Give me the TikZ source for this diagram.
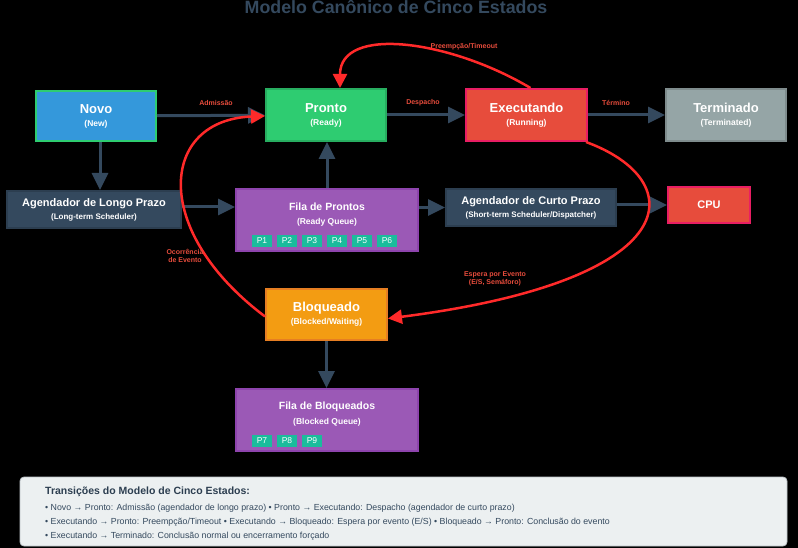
\documentclass[tikz,border=0pt]{standalone}
\usepackage{fontspec}
\setmainfont{Liberation Sans}
\usepackage{tikz}
\usetikzlibrary{positioning,arrows.meta}

\definecolor{cnovo}{HTML}{3498DB}
\definecolor{cpronto}{HTML}{2ECC71}
\definecolor{cprontob}{HTML}{27AE60}
\definecolor{cexec}{HTML}{E74C3C}
\definecolor{cpink}{HTML}{E91E63}
\definecolor{cterm}{HTML}{95A5A6}
\definecolor{ctermb}{HTML}{7F8C8D}
\definecolor{cdark}{HTML}{34495E}
\definecolor{cdarkb}{HTML}{2C3E50}
\definecolor{cfila}{HTML}{9B59B6}
\definecolor{cfilab}{HTML}{8E44AD}
\definecolor{cbloq}{HTML}{F39C12}
\definecolor{cbloqb}{HTML}{E67E22}
\definecolor{cchip}{HTML}{1ABC9C}
\definecolor{cred}{HTML}{FF2A2A}
\definecolor{clabel}{HTML}{E74C3C}
\definecolor{clegend}{HTML}{ECF0F1}
\definecolor{clegendb}{HTML}{BDC3C7}

\tikzset{
  statebox/.style={draw, line width=2pt, inner sep=0pt, text=white, align=center},
  queuebox/.style={draw=cfilab, fill=cfila, line width=2pt, inner sep=0pt,
    minimum width=182pt, minimum height=62pt},
  boxtitle/.style={text=white, font=\bfseries\fontsize{10.5}{12}\selectfont, inner sep=0pt},
  boxsub/.style={text=white, font=\bfseries\fontsize{8.5}{10}\selectfont, inner sep=0pt},
  chip/.style={fill=cchip, text=white, inner sep=0pt, minimum width=20pt,
    minimum height=12pt, font=\fontsize{8.5}{9}\selectfont},
  flow/.style={draw=cdark, line width=3pt, -{Triangle[length=17pt,width=16pt]}},
  redflow/.style={draw=cred, line width=2.5pt, -{Triangle[length=14pt,width=14pt]}},
  tlabel/.style={text=clabel, font=\bfseries\fontsize{7}{8}\selectfont, align=center, inner sep=0pt},
  legline/.style={anchor=west, text=cdark, inner sep=0pt, font=\fontsize{8.8}{10}\selectfont},
}

\newcommand{\twoline}[2]{{\fontsize{13}{15}\selectfont #1}\\[1pt]{\fontsize{8.5}{10}\selectfont #2}}

\begin{document}
\begin{tikzpicture}[x=1pt, y=-1pt]
  \fill[black] (0,0) rectangle (798,548);
  \useasboundingbox (0,0) rectangle (798,548);

  % title
  \node[text=cdark, font=\bfseries\fontsize{17.8}{19}\selectfont] (title) at (396,7) {Modelo Canônico de Cinco Estados};

  % states
  \node[statebox, fill=cnovo, draw=cpronto, minimum width=120pt, minimum height=50pt, font=\bfseries] (novo) at (96,116) {\twoline{Novo}{(New)}};
  \node[statebox, fill=cpronto, draw=cprontob, minimum width=120pt, minimum height=52pt, font=\bfseries] (pronto) at (326,115) {\twoline{Pronto}{(Ready)}};
  \node[statebox, fill=cexec, draw=cpink, minimum width=121pt, minimum height=52pt, font=\bfseries] (exec) at (526.5,115) {\twoline{Executando}{(Running)}};
  \node[statebox, fill=cterm, draw=ctermb, minimum width=120pt, minimum height=52pt, font=\bfseries] (term) at (726,115) {\twoline{Terminado}{(Terminated)}};
  \node[statebox, fill=cbloq, draw=cbloqb, minimum width=121pt, minimum height=51pt, font=\bfseries] (bloq) at (326.5,314.5) {\twoline{Bloqueado}{(Blocked/Waiting)}};

  % schedulers and cpu
  \node[statebox, fill=cdark, draw=cdarkb, minimum width=174pt, minimum height=37pt, font=\bfseries] (longo) at (94,209.5)
    {{\fontsize{11}{13}\selectfont Agendador de Longo Prazo}\\[1pt]{\fontsize{8}{9}\selectfont (Long-term Scheduler)}};
  \node[statebox, fill=cdark, draw=cdarkb, minimum width=170pt, minimum height=37pt, font=\bfseries] (curto) at (531,207.5)
    {{\fontsize{11}{13}\selectfont Agendador de Curto Prazo}\\[1pt]{\fontsize{8}{9}\selectfont (Short-term Scheduler/Dispatcher)}};
  \node[statebox, fill=cexec, draw=cpink, minimum width=82pt, minimum height=36pt, font=\bfseries\fontsize{11}{13}\selectfont] (cpu) at (709,205) {CPU};

  % queues
  \node[queuebox] (fila) at (327,220) {};
  \node[boxtitle] (filat) at (327,207) {Fila de Prontos};
  \node[boxsub] (filas) at (327,222) {(Ready Queue)};
  \foreach \i in {1,...,6}
    \node[chip] (p\i) at ({237+25*\i},241) {P\i};

  \node[queuebox] (filab) at (327,420) {};
  \node[boxtitle] (filabt) at (327,407) {Fila de Bloqueados};
  \node[boxsub] (filabs) at (327,422) {(Blocked Queue)};
  \foreach \i/\j in {7/1,8/2,9/3}
    \node[chip] (p\i) at ({237+25*\j},441) {P\i};

  % main flow
  \draw[flow] (novo) -- (pronto);
  \draw[flow] (pronto) -- (exec);
  \draw[flow] (exec) -- (term);
  \draw[flow] ([xshift=4pt]novo.south) -- ([xshift=4pt]novo.south |- longo.north);
  \draw[flow] (longo.east |- fila.west) ++(0,-13) coordinate (l1) -- (l1 -| fila.west);
  \draw[flow] (fila.north) -- (fila.north |- pronto.south);
  \draw[flow] (fila.east |- curto.west) -- (curto.west);
  \draw[flow] (curto.east |- cpu.west) -- (cpu.west);
  \draw[flow] (bloq.south) -- (bloq.south |- filab.north);

  % red transitions
  \draw[redflow] ([xshift=4pt]exec.north) .. controls (450,40) and (340,25) .. ([xshift=14pt]pronto.north);
  \draw[redflow] ([xshift=-2pt]exec.south east) .. controls (690,180) and (690,280) .. ([yshift=-4pt]bloq.east);
  \draw[redflow] ([yshift=-2pt]bloq.west) .. controls (150,230) and (160,120) .. ([yshift=-1pt]pronto.west);

  % transition labels
  \node[tlabel] (ladm) at (216,103) {Admissão};
  \node[tlabel] (ldesp) at (423,103) {Despacho};
  \node[tlabel] (lterm) at (616,103) {Término};
  \node[tlabel] (lpre) at (464,47) {Preempção/Timeout};
  \node[tlabel] (locor) at (185,256) {Ocorrência\\de Evento};
  \node[tlabel] (lesp) at (495,279) {Espera por Evento\\(E/S, Semáforo)};

  % legend
  \node[draw=clegendb, fill=clegend, rounded corners=4pt, line width=0.8pt, minimum width=767pt, minimum height=69pt] (legend) at (403.5,511.5) {};
  \node[legline, text=cdarkb, font=\bfseries\fontsize{10.5}{12}\selectfont] (legt) at (45,492) {Transições do Modelo de Cinco Estados:};
  \node[legline] (leg1) at (45,508) {• Novo → Pronto: Admissão (agendador de longo prazo) • Pronto → Executando: Despacho (agendador de curto prazo)};
  \node[legline] (leg2) at (45,522) {• Executando → Pronto: Preempção/Timeout • Executando → Bloqueado: Espera por evento (E/S) • Bloqueado → Pronto: Conclusão do evento};
  \node[legline] (leg3) at (45,536) {• Executando → Terminado: Conclusão normal ou encerramento forçado};
\end{tikzpicture}
\end{document}
